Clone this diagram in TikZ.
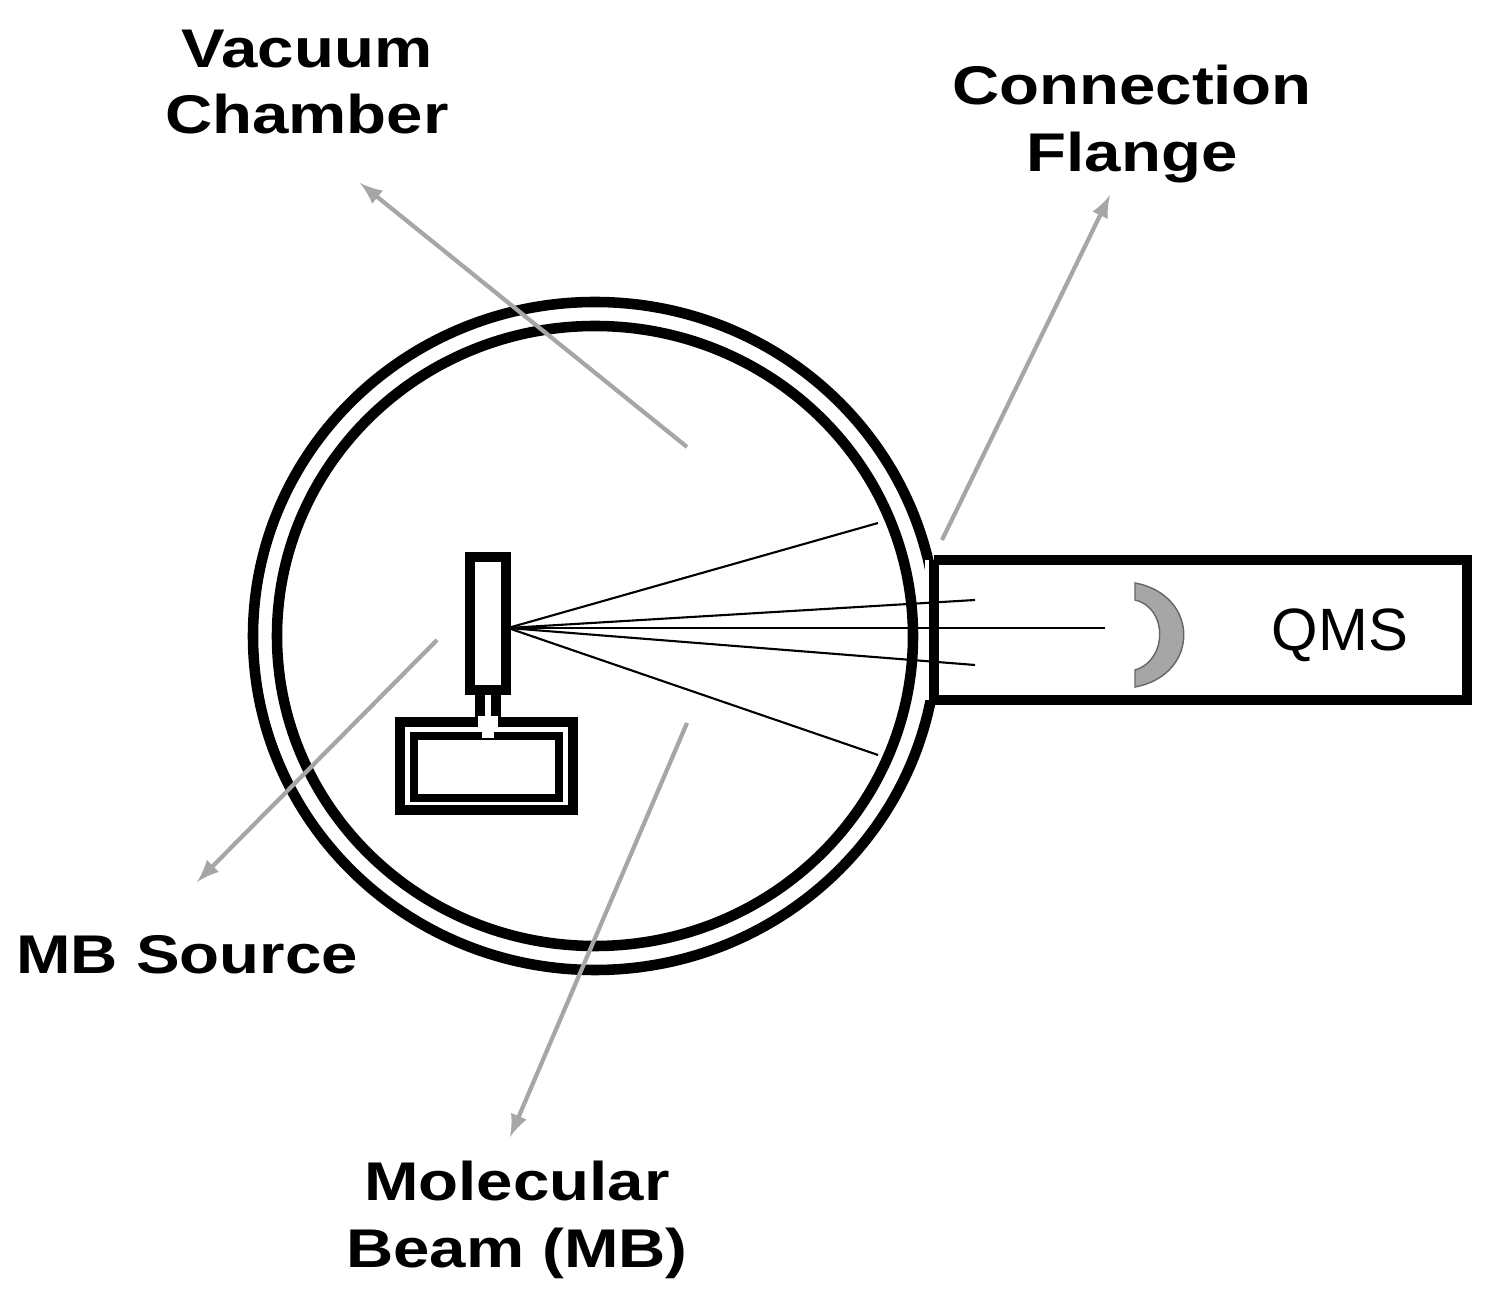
\documentclass[tikz,border=0pt]{standalone}
\usepackage{fontspec}
\setmainfont{Liberation Sans}
\usetikzlibrary{positioning}
\tikzset{
	lbl/.style={font=\fontsize{15.5}{19}\selectfont\bfseries, align=center, xscale=1.2, transform shape},
	ptr/.style={draw=gray!70, line width=1.2pt, -latex},
	wall/.style={line width=3pt},
	beam/.style={line width=0.6pt},
}
\begin{document}
\begin{tikzpicture}[x=0.01cm,y=-0.01cm]
	\useasboundingbox (0,0) rectangle (1503,1304);
	%% chamber
	\coordinate (c0) at (595,636);
	\draw[wall] (c0) ellipse [x radius=342, y radius=334];
	\draw[wall] (c0) ellipse [x radius=318, y radius=310];
	%% QMS tube
	\fill[white] (925,560) rectangle (1467,700);
	\draw[wall] (934,560) -- (1467,560) -- (1467,700) -- (934,700);
	\draw[wall] (934,560) -- (934,700);
	\node (qms) at (1340,635) {\fontsize{17}{20}\selectfont QMS};
	%% detector
	\fill[gray!70, draw=black!60] (1135,583) .. controls (1200,595) and (1200,675) .. (1135,687)
		-- (1135,670) .. controls (1168,660) and (1168,608) .. (1135,600) -- cycle;
	%% MB source
	\draw[wall] (470,557) rectangle (506,690);
	\draw[wall] (480,690) -- (480,722) (496,690) -- (496,722);
	\draw[wall] (400,722) rectangle (573,810);
	\draw[line width=2pt] (414,736) rectangle (559,798);
	\fill[white] (478,716) rectangle (498,738);
	\draw[line width=2pt] (482,736) -- (414,736) (494,736) -- (559,736);
	%% beam
	\coordinate (s0) at (508,628);
	\coordinate (b1) at (878,523);
	\coordinate (b2) at (975,600);
	\coordinate (b3) at (1105,628);
	\coordinate (b4) at (975,665);
	\coordinate (b5) at (878,755);
	\foreach \b in {b1,b2,b3,b4,b5}
		\draw[beam] (s0) -- (\b);
	%% labels
	\node[lbl] (vc) at (307,82) {Vacuum\\Chamber};
	\node[lbl] (cf) at (1132,124) {Connection\\Flange};
	\node[lbl] (ms) at (187,955) {MB Source};
	\node[lbl] (mb) at (517,1220) {Molecular\\Beam (MB)};
	\coordinate (p1) at (687,447);
	\coordinate (p2) at (942,540);
	\coordinate (p3) at (437,640);
	\coordinate (p4) at (687,723);
	\coordinate (t1) at (360,183);
	\coordinate (t2) at (1110,195);
	\coordinate (t3) at (197,882);
	\coordinate (t4) at (510,1137);
	\draw[ptr] (p1) -- (t1);
	\draw[ptr] (p2) -- (t2);
	\draw[ptr] (p3) -- (t3);
	\draw[ptr] (p4) -- (t4);
\end{tikzpicture}
\end{document}
